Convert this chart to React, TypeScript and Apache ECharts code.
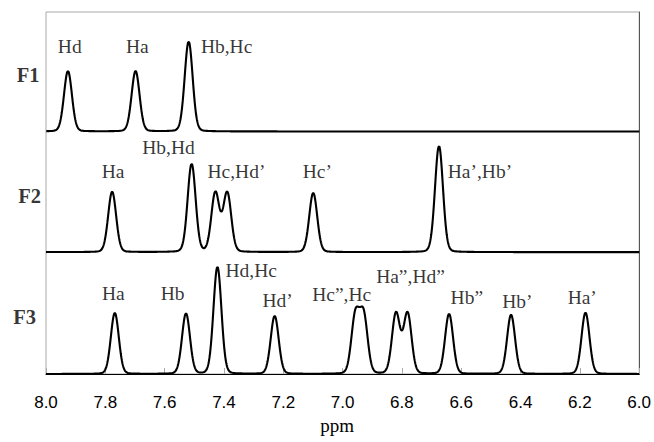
import { useEffect, useRef } from "react";
import * as echarts from "echarts";

// ---- Data ----
const X_MIN = 6.0;
const X_MAX = 8.0;
const X_INTERVAL = 0.2;
const Y_MAX = 3;

const SPECTRUM_NAMES = ["F1", "F2", "F3"];
const BASELINES = [2.01, 1.01, 0];

// peak shifts (ppm) and heights (units above each baseline)
const F1_PEAK_PPM = [7.926, 7.698, 7.519];
const F1_PEAK_HEIGHT = [0.5, 0.5, 0.745];

const F2_PEAK_PPM = [7.777, 7.509, 7.429, 7.389, 7.099, 6.675];
const F2_PEAK_HEIGHT = [0.5, 0.73, 0.49, 0.49, 0.49, 0.88];

const F3_PEAK_PPM = [7.768, 7.528, 7.422, 7.229, 6.957, 6.929, 6.82, 6.781, 6.641, 6.432, 6.181];
const F3_PEAK_HEIGHT = [0.505, 0.5, 0.887, 0.48, 0.475, 0.475, 0.5, 0.5, 0.497, 0.49, 0.508];

// line-shape parameters
const PEAK_SIGMA = 0.0135;
const LORENTZ_FRACTION = 0.1;
const SAMPLE_STEP = 0.001;

// peak annotations
const F1_LABELS = ["Hd", "Ha", "Hb,Hc"];
const F1_LABEL_PPM = [7.92, 7.692, 7.391];
const F1_LABEL_Y = [2.714, 2.714, 2.714];

const F2_LABELS = ["Hb,Hd", "Ha", "Hc,Hd\u2019", "Hc\u2019", "Ha\u2019,Hb\u2019"];
const F2_LABEL_PPM = [7.587, 7.774, 7.358, 7.085, 6.537];
const F2_LABEL_Y = [1.873, 1.682, 1.682, 1.682, 1.682];

const F3_LABELS = [
  "Hd,Hc",
  "Ha",
  "Hb",
  "Hd\u2019",
  "Hc\u201d,Hc",
  "Ha\u201d,Hd\u201d",
  "Hb\u201d",
  "Hb\u2019",
  "Ha\u2019",
];
const F3_LABEL_PPM = [7.308, 7.773, 7.573, 7.219, 7.003, 6.771, 6.581, 6.411, 6.192];
const F3_LABEL_Y = [0.854, 0.671, 0.671, 0.605, 0.659, 0.804, 0.638, 0.597, 0.638];

const NAME_LABEL_PPM = [8.06, 8.055, 8.072];
const NAME_LABEL_Y = [2.482, 1.475, 0.472];

function buildSpectrum(ppms: number[], heights: number[], base: number) {
  const gamma = PEAK_SIGMA * Math.sqrt(2 * Math.log(2));
  const n = Math.round((X_MAX - X_MIN) / SAMPLE_STEP);
  const data: number[][] = [];
  for (let i = 0; i <= n; i++) {
    const x = +(X_MIN + i * SAMPLE_STEP).toFixed(3);
    let y = base;
    for (let k = 0; k < ppms.length; k++) {
      const d = x - ppms[k];
      const g = Math.exp(-(d * d) / (2 * PEAK_SIGMA * PEAK_SIGMA));
      const l = 1 / (1 + (d / gamma) * (d / gamma));
      y += heights[k] * ((1 - LORENTZ_FRACTION) * g + LORENTZ_FRACTION * l);
    }
    data.push([x, y]);
  }
  return data;
}

function labelData(texts: string[], xs: number[], ys: number[]) {
  return texts.map((t, i) => ({ name: t, value: [xs[i], ys[i]] }));
}

export default function App() {
  const ref = useRef<HTMLDivElement>(null);

  useEffect(() => {
    if (!ref.current) return;
    const chart = echarts.init(ref.current, undefined, { renderer: "svg" });

    const peakSets = [
      [F1_PEAK_PPM, F1_PEAK_HEIGHT],
      [F2_PEAK_PPM, F2_PEAK_HEIGHT],
      [F3_PEAK_PPM, F3_PEAK_HEIGHT],
    ];

    const lineSeries = peakSets.map((p, i) => ({
      name: SPECTRUM_NAMES[i],
      type: "line",
      data: buildSpectrum(p[0], p[1], BASELINES[i]),
      showSymbol: false,
      symbol: "none",
      lineStyle: { color: "#000", width: 2.1 },
      silent: true,
      z: 5,
    }));

    const serifLabel = {
      show: true,
      position: "inside",
      formatter: "{b}",
      color: "#000",
      fontFamily: "Liberation Serif",
      fontSize: 19.5,
    };

    const allLabels = [
      ...labelData(F1_LABELS, F1_LABEL_PPM, F1_LABEL_Y),
      ...labelData(F2_LABELS, F2_LABEL_PPM, F2_LABEL_Y),
      ...labelData(F3_LABELS, F3_LABEL_PPM, F3_LABEL_Y),
    ];

    chart.setOption({
      animation: false,
      backgroundColor: "#fff",
      grid: {
        left: 46,
        right: 11,
        top: 12,
        bottom: 68,
        show: true,
        borderColor: "#a8a8a8",
        borderWidth: 1,
      },
      xAxis: {
        type: "value",
        min: X_MIN,
        max: X_MAX,
        interval: X_INTERVAL,
        inverse: true,
        axisLine: { show: true, lineStyle: { color: "#000", width: 1 } },
        axisTick: { show: true, inside: true, length: 6, lineStyle: { color: "#aaa" } },
        axisLabel: {
          margin: 20,
          fontSize: 17,
          fontFamily: "Liberation Sans",
          color: "#000",
          formatter: (v: number) => v.toFixed(1),
        },
        splitLine: { show: false },
        name: "ppm",
        nameLocation: "middle",
        nameGap: 41,
        nameTextStyle: {
          fontFamily: "Liberation Serif",
          fontSize: 19,
          color: "#000",
          padding: [0, 11, 0, 0],
        },
      },
      yAxis: [
        {
          type: "value",
          min: 0,
          max: Y_MAX,
          axisLine: { show: false },
          axisTick: { show: false },
          axisLabel: { show: false },
          splitLine: { show: false },
        },
        {
          type: "value",
          position: "right",
          min: 0,
          max: Y_MAX,
          axisLine: { show: true, lineStyle: { color: "#555", width: 1 } },
          axisTick: { show: false },
          axisLabel: { show: false },
          splitLine: { show: false },
        },
      ],
      series: [
        ...lineSeries,
        {
          type: "scatter",
          data: allLabels,
          symbolSize: 1,
          itemStyle: { color: "rgba(0,0,0,0)" },
          label: serifLabel,
          silent: true,
          z: 6,
        },
        {
          type: "scatter",
          data: labelData(SPECTRUM_NAMES, NAME_LABEL_PPM, NAME_LABEL_Y),
          symbolSize: 1,
          clip: false,
          itemStyle: { color: "rgba(0,0,0,0)" },
          label: { ...serifLabel, fontWeight: "bold", fontSize: 20.5 },
          silent: true,
          z: 6,
        },
      ],
    });

    return () => chart.dispose();
  }, []);

  return (
    <div
      ref={ref}
      style={{ position: "fixed", left: 0, top: 0, width: 654, height: 442, background: "#fff" }}
    />
  );
}
